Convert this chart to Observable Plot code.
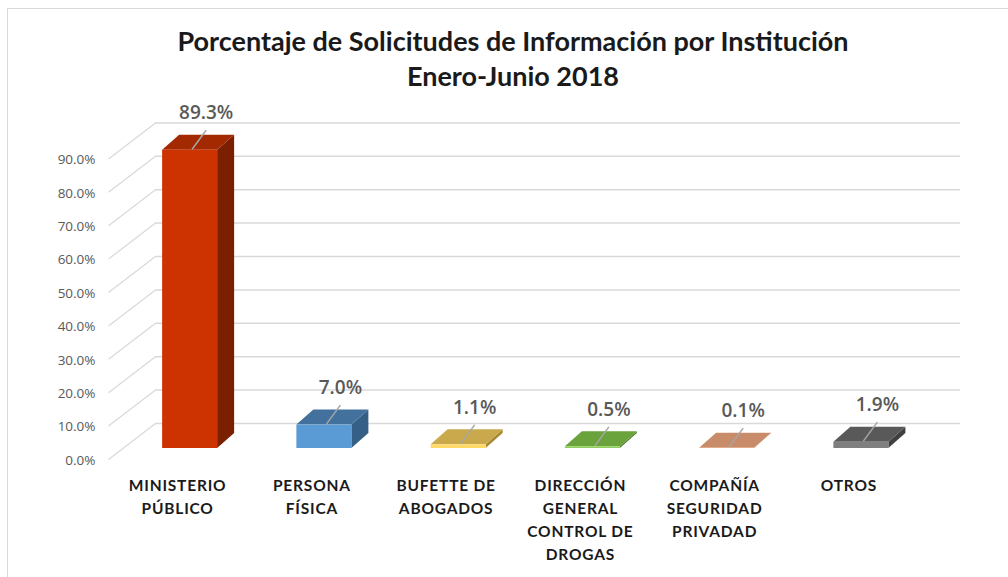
<!DOCTYPE html>
<html><head><meta charset="utf-8">
<script src="https://cdn.jsdelivr.net/npm/d3@7"></script>
<script src="https://cdn.jsdelivr.net/npm/@observablehq/plot@0.6"></script>
<style>
body{margin:0;background:#fff;}
#wrap{position:relative;width:1008px;height:577px;overflow:hidden;font-family:Lato,sans-serif;background:#fff;}
#frame{position:absolute;left:7px;top:8px;width:1100px;height:700px;border-left:1.5px solid #d9d9d9;border-top:1.5px solid #d9d9d9;}
#title{position:absolute;left:0;top:23px;width:1026px;text-align:center;font-size:27px;font-weight:bold;line-height:35px;color:#1a1a1a;}
#chart{position:absolute;left:0;top:100px;}
</style></head>
<body><div id="wrap"><div id="frame"></div><div id="title">Porcentaje de Solicitudes de Información por Institución<br>Enero-Junio 2018</div><div id="chart"></div></div>
<script>
const categories = ["MINISTERIO\nPÚBLICO", "PERSONA\nFÍSICA", "BUFETTE DE\nABOGADOS", "DIRECCIÓN\nGENERAL\nCONTROL DE\nDROGAS", "COMPAÑÍA\nSEGURIDAD\nPRIVADAD", "OTROS"];
const values = [89.3, 7.0, 1.1, 0.5, 0.1, 1.9];
const valueLabels = ["89.3%", "7.0%", "1.1%", "0.5%", "0.1%", "1.9%"];
const frontColors = ["#cc3300", "#5b9bd5", "#ffd966", "#8fce5a", "#f4b183", "#7f7f7f"];
const topColors   = ["#a32900", "#41719c", "#c9a94c", "#6aa33c", "#c98c6a", "#595959"];
const sideColors  = ["#7a1f00", "#355f86", "#a88a30", "#4f7d2c", "#a86f50", "#404040"];
const yTicks = [0, 10, 20, 30, 40, 50, 60, 70, 80, 90];

// geometry (pixel conversions)
const X0 = 122.5, X1 = 928, Y0 = 348, Y1 = 14;
const PXX = (X1 - X0) / 6;          // px per category unit
const PXY = (Y0 - Y1) / 100;        // px per percent
const px2x = p => p / PXX;
const px2y = p => p / PXY;          // upward pixels -> percent
const hw = px2x(27.5);
const ddx = px2x(17), ddy = px2y(15);
const gridDy = px2y(25);
const wallX1 = -0.5 + px2x(155 - X0), wallX2 = -0.5 + px2x(960 - X0);
const diagX = -0.5 + px2x(108 - X0);

const rows = categories.map((c, i) => ({c, i, v: values[i], label: valueLabels[i]}));
const topPts = rows.flatMap(d => [
  {z: d.i, y: d.v, x1: d.i - hw, x2: d.i + hw, f: topColors[d.i]},
  {z: d.i, y: d.v + ddy, x1: d.i - hw + ddx, x2: d.i + hw + ddx, f: topColors[d.i]}
]);
const sidePts = rows.flatMap(d => [
  {z: d.i, x: d.i + hw, y1: 0, y2: d.v, f: sideColors[d.i]},
  {z: d.i, x: d.i + hw + ddx, y1: ddy, y2: d.v + ddy, f: sideColors[d.i]}
]);

const chart = Plot.plot({
  width: 1008,
  height: 477,
  margin: 0,
  x: {type: "linear", domain: [-0.5, 5.5], range: [X0, X1], axis: null},
  y: {type: "linear", domain: [0, 100], range: [Y0, Y1], axis: null},
  color: {type: "identity"},
  style: {background: "transparent", overflow: "visible"},
  marks: [
    Plot.ruleY(yTicks, {y: d => d + gridDy, x1: wallX1, x2: wallX2, stroke: "#d9d9d9", strokeWidth: 1.5}),
    Plot.link(yTicks, {x1: diagX, y1: d => d - px2y(11), x2: wallX1, y2: d => d + gridDy, stroke: "#d9d9d9", strokeWidth: 1.2}),
    Plot.text(yTicks, {x: -0.5 + px2x(95 - X0), y: d => d, dy: 12, text: d => d.toFixed(1) + "%", textAnchor: "end", fontSize: 13.5, fontFamily: "Open Sans", fill: "#595959"}),
    Plot.areaY(sidePts, {x: "x", y1: "y1", y2: "y2", z: "z", fill: "f", curve: "linear"}),
    Plot.areaX(topPts, {y: "y", x1: "x1", x2: "x2", z: "z", fill: "f", curve: "linear"}),
    Plot.rectY(rows, {x1: d => d.i - hw, x2: d => d.i + hw, y1: 0, y2: "v", fill: d => frontColors[d.i]}),
    Plot.link(rows, {x1: d => d.i + px2x(2), y1: d => d.v + px2y(1), x2: d => d.i + px2x(16), y2: d => d.v + px2y(20), stroke: "#a6a6a6", strokeWidth: 1.5}),
    Plot.text(rows, {x: d => d.i + px2x(16), y: "v", dy: -37, text: "label", fontSize: 19, fontWeight: 600, fontFamily: "Open Sans", fill: "#595959"}),
    Plot.text(rows, {x: d => d.i + px2x(-12.5), y: 0, dy: 26, lineAnchor: "top", text: "c", fontSize: 15.5, fontWeight: "bold", lineHeight: 1.48, fontFamily: "Lato", fill: "#1a1a1a", ariaLabel: "category-labels"})
  ]
});
const catGroups = chart.querySelectorAll('g[aria-label="text"]');
const catGroup = catGroups[catGroups.length - 1];
if (catGroup) catGroup.setAttribute("letter-spacing", "0.8px");
document.getElementById("chart").appendChild(chart);
</script>
</body></html>
